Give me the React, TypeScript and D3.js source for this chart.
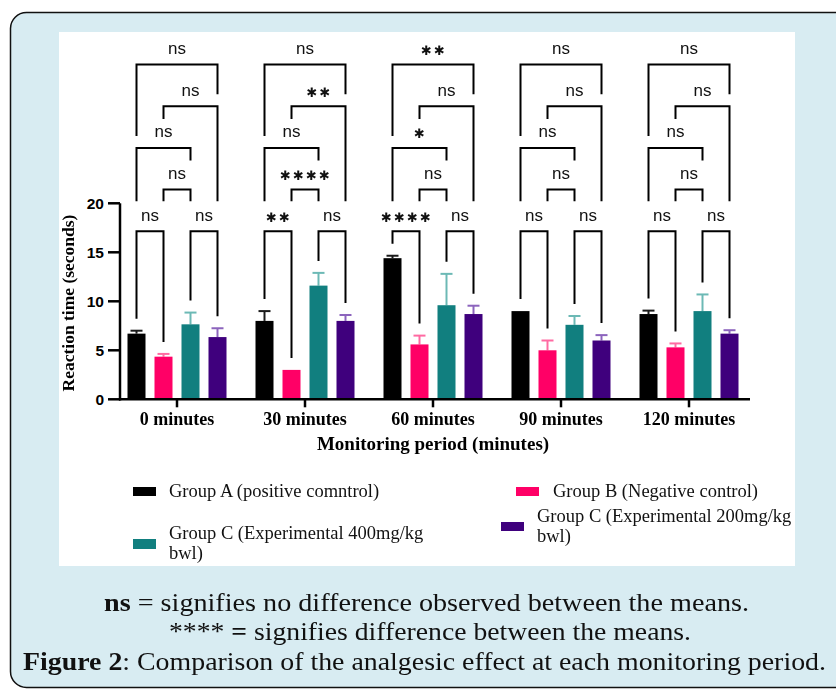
import React from 'react';
import * as d3 from 'd3';

// monitoring periods and groups
const periods = ['0 minutes', '30 minutes', '60 minutes', '90 minutes', '120 minutes'];
const groupNames = [
  ['Group A (positive comntrol)'],
  ['Group B (Negative control)'],
  ['Group C (Experimental 400mg/kg', 'bwl)'],
  ['Group C (Experimental 200mg/kg', 'bwl)'],
];

// mean reaction time (seconds) per period
const groupA = [6.7, 8.0, 14.4, 9.0, 8.7];
const groupB = [4.35, 3.0, 5.6, 5.0, 5.3];
const groupC400 = [7.65, 11.6, 9.6, 7.6, 9.0];
const groupC200 = [6.35, 8.0, 8.7, 6.0, 6.7];

// error (upper whisker)
const errA = [0.3, 1.0, 0.25, 0, 0.35];
const errB = [0.28, 0, 0.9, 1.0, 0.4];
const errC400 = [1.2, 1.3, 3.2, 0.9, 1.7];
const errC200 = [0.9, 0.6, 0.85, 0.55, 0.35];

// multiple comparisons: pair of group indexes and stacking level
const pairs = [[0, 1], [2, 3], [1, 2], [0, 2], [1, 3], [0, 3]];
const pairLevels = [0, 0, 1, 2, 3, 4];
const sig0 = ['ns', 'ns', 'ns', 'ns', 'ns', 'ns'];
const sig30 = ['**', 'ns', '****', 'ns', '**', 'ns'];
const sig60 = ['****', 'ns', 'ns', '*', 'ns', '**'];
const sig90 = ['ns', 'ns', 'ns', 'ns', 'ns', 'ns'];
const sig120 = ['ns', 'ns', 'ns', 'ns', 'ns', 'ns'];

const yTicks = [0, 5, 10, 15, 20];

const means = [groupA, groupB, groupC400, groupC200];
const errs = [errA, errB, errC400, errC200];
const sigs = [sig0, sig30, sig60, sig90, sig120];

const barColors = ['#000000', '#ff0066', '#117f7f', '#3f007d'];
const errColors = ['#1a1a1a', '#ff6aa2', '#6cb9b5', '#8c64bd'];

const W = 836;
const H = 690;
const sans = '"Liberation Sans", Arial, sans-serif';
const serif = '"Liberation Serif", "Times New Roman", serif';

const y = d3.scaleLinear().domain([0, 20]).range([399.3, 203.3]);
const x = d3.scaleBand().domain(periods).range([113, 753]).padding(0);
const xi = d3.scaleBand<number>().domain(d3.range(4)).range([-54, 54]).paddingInner(1 / 3).paddingOuter(1 / 6);

const barCenter = (p: number, g: number) =>
  (x(periods[p]) as number) + x.bandwidth() / 2 + (xi(g) as number) + xi.bandwidth() / 2;

const levelStep = 41.7;
const bracketY = (lvl: number) => y(20) + 28 - lvl * levelStep;
const starGap = 13;
const labelHalf = (s: string) => (s === 'ns' ? 14 : (s.length - 1) * starGap / 2 + 8);

function buildBrackets(p: number) {
  const items = pairs.map((pr, c) => {
    const x1 = barCenter(p, pr[0]);
    const x2 = barCenter(p, pr[1]);
    const yb = bracketY(pairLevels[c]);
    return { c, lvl: pairLevels[c], g1: pr[0], g2: pr[1], x1, x2, yb, label: sigs[p][c], lx: (x1 + x2) / 2, ly: yb - 15 };
  });
  const legEnd = (it: any, g: number, xs: number) => {
    if (it.lvl === 0) return y(means[g][p] + errs[g][p]) - 12;
    let end = y(20) - 2;
    items.forEach(o => {
      if (o.lvl < 1 || o.lvl >= it.lvl) return;
      if (xs >= o.x1 - 0.5 && xs <= o.x2 + 0.5) end = Math.min(end, o.yb - 12);
      if (Math.abs(xs - o.lx) <= labelHalf(o.label)) end = Math.min(end, o.ly - 14);
    });
    return end;
  };
  return items.map(it => ({ ...it, e1: legEnd(it, it.g1, it.x1), e2: legEnd(it, it.g2, it.x2) }));
}

function SigLabel({ x0, y0, text }: { x0: number; y0: number; text: string }) {
  if (text === 'ns') {
    return (
      <text x={x0} y={y0 + 4.5} textAnchor="middle" fontFamily={sans} fontSize={17} fill="#111">ns</text>
    );
  }
  const n = text.length;
  return (
    <g>
      {d3.range(n).map(i => (
        <text key={i} x={x0 + (i - (n - 1) / 2) * starGap} y={y0 + 5.5} textAnchor="middle"
          fontFamily='"DejaVu Sans", sans-serif' fontSize={13} fill="#111">✱</text>
      ))}
    </g>
  );
}

export default function App() {
  return (
    <div style={{ position: 'fixed', left: 0, top: 0 }}>
      <svg width={W} height={H} style={{ display: 'block' }}>
        <rect x={10.5} y={12.5} width={860} height={675} rx={16} fill="#d8ecf2" stroke="#111" strokeWidth={1.5} />
        <rect x={59} y={32} width={736} height={534} fill="#ffffff" />

        {/* y axis */}
        <g>
          <line x1={120} x2={120} y1={y(20)} y2={y(0) + 1.2} stroke="#000" strokeWidth={2.5} />
          {yTicks.map(t => (
            <g key={t}>
              <line x1={108} x2={120} y1={y(t)} y2={y(t)} stroke="#000" strokeWidth={2.5} />
              <text x={104} y={y(t) + 5.5} textAnchor="end" fontFamily={sans} fontWeight="bold" fontSize={15.5}>{t}</text>
            </g>
          ))}
          <text transform={`translate(73.5,303) rotate(-90)`} textAnchor="middle"
            fontFamily={serif} fontWeight="bold" fontSize={17.5}>Reaction time (seconds)</text>
        </g>

        {/* bars and error bars */}
        {periods.map((per, p) => (
          <g key={per}>
            {means.map((m, g) => {
              const cx = barCenter(p, g);
              const top = y(m[p]);
              const et = y(m[p] + errs[g][p]);
              return (
                <g key={g}>
                  {errs[g][p] > 0 && (
                    <g stroke={errColors[g]} strokeWidth={2}>
                      <line x1={cx} x2={cx} y1={top} y2={et} />
                      <line x1={cx - 6} x2={cx + 6} y1={et} y2={et} />
                    </g>
                  )}
                  <rect x={cx - xi.bandwidth() / 2} y={top} width={xi.bandwidth()} height={y(0) - top} fill={barColors[g]} />
                </g>
              );
            })}
          </g>
        ))}

        {/* x axis */}
        <g>
          <line x1={119} x2={750} y1={y(0)} y2={y(0)} stroke="#000" strokeWidth={2.5} />
          {periods.map(per => {
            const cx = (x(per) as number) + x.bandwidth() / 2;
            return (
              <g key={per}>
                <line x1={cx} x2={cx} y1={y(0)} y2={y(0) + 8} stroke="#000" strokeWidth={2.5} />
                <text x={cx} y={425} textAnchor="middle" fontFamily={serif} fontWeight="bold" fontSize={18}>{per}</text>
              </g>
            );
          })}
          <text x={433} y={450} textAnchor="middle" fontFamily={serif} fontWeight="bold" fontSize={19}>Monitoring period (minutes)</text>
        </g>

        {/* significance brackets */}
        {periods.map((per, p) => (
          <g key={per}>
            {buildBrackets(p).map(b => (
              <g key={b.c}>
                <path d={`M${b.x1},${b.e1}V${b.yb}H${b.x2}V${b.e2}`} fill="none" stroke="#000" strokeWidth={2} />
                <SigLabel x0={b.lx} y0={b.ly} text={b.label} />
              </g>
            ))}
          </g>
        ))}

        {/* legend */}
        <g fontFamily={serif} fontSize={18.5} fill="#111">
          <rect x={133} y={487} width={23} height={9} fill={barColors[0]} />
          <text x={169} y={497}>{groupNames[0][0]}</text>
          <rect x={516} y={487} width={23} height={9} fill={barColors[1]} />
          <text x={553} y={497}>{groupNames[1][0]}</text>
          <rect x={133} y={539} width={23} height={10} fill={barColors[2]} />
          <text x={169} y={539}>
            <tspan x={169}>{groupNames[2][0]}</tspan>
            <tspan x={169} dy={20}>{groupNames[2][1]}</tspan>
          </text>
          <rect x={501} y={522} width={23} height={9} fill={barColors[3]} />
          <text x={537} y={522}>
            <tspan x={537}>{groupNames[3][0]}</tspan>
            <tspan x={537} dy={20}>{groupNames[3][1]}</tspan>
          </text>
        </g>

        {/* caption */}
        <g fontFamily={serif} fontSize={25} fill="#111">
          <text x={104} y={611} textLength={645} lengthAdjust="spacingAndGlyphs"><tspan fontWeight="bold">ns</tspan> = signifies no difference observed between the means.</text>
          <text x={169} y={640} textLength={522} lengthAdjust="spacingAndGlyphs">**** <tspan fontWeight="bold">=</tspan> signifies difference between the means.</text>
          <text x={23} y={670} textLength={803} lengthAdjust="spacingAndGlyphs"><tspan fontWeight="bold">Figure 2</tspan>: Comparison of the analgesic effect at each monitoring period.</text>
        </g>
      </svg>
    </div>
  );
}
